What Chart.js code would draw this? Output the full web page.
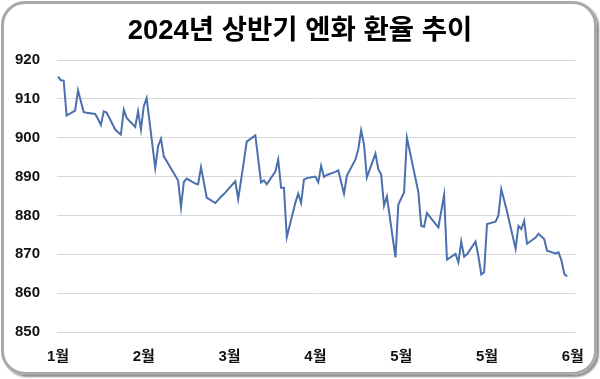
<!DOCTYPE html>
<html lang="ko">
<head>
<meta charset="utf-8">
<title>2024년 상반기 엔화 환율 추이</title>
<script src="https://cdn.jsdelivr.net/npm/chart.js@4.4.1/dist/chart.umd.min.js"></script>
<style>
  html, body { margin: 0; padding: 0; background: #fff; }
  #wrap { position: relative; width: 600px; height: 379px; }
  #frame {
    position: absolute; left: 1px; top: 1px; width: 590px; height: 368px;
    border: 3px solid #a9a9a9; border-radius: 24px;
    box-shadow: 2px 2px 2px #8c8c8c; pointer-events: none;
  }
  #title {
    position: absolute; left: 0; top: 7px; width: 600px; height: 33px;
    line-height: 33px; text-align: center; color: #000;
    font: bold 27.5px 'Liberation Sans', 'Noto Sans CJK KR', sans-serif;
  }
  canvas { position: absolute; left: 0; top: 0; }
</style>
</head>
<body>
<div id="wrap">
  <canvas id="chart" width="600" height="379"></canvas>
  <div id="title">2024년 상반기 엔화 환율 추이</div>
  <div id="frame"></div>
</div>
<script>
// 거래일 (2024년)
const dates = [
  '01-02','01-03','01-04','01-05','01-08','01-09','01-10','01-11','01-12',
  '01-15','01-16','01-17','01-18','01-19','01-22','01-23','01-24','01-25','01-26',
  '01-29','01-30','01-31','02-01','02-02','02-05','02-06','02-07','02-08',
  '02-13','02-14','02-15','02-16','02-19','02-20','02-21','02-22','02-23',
  '02-26','02-27','02-28','02-29','03-04','03-05','03-06','03-07','03-08',
  '03-11','03-12','03-13','03-14','03-15','03-18','03-19','03-20','03-21','03-22',
  '03-25','03-26','03-27','03-28','03-29','04-01','04-02','04-03','04-04','04-05',
  '04-08','04-09','04-11','04-12','04-15','04-16','04-17','04-18','04-19',
  '04-22','04-23','04-24','04-25','04-26','04-29','04-30','05-02','05-03',
  '05-07','05-08','05-09','05-10','05-13','05-14','05-16','05-17',
  '05-20','05-21','05-22','05-23','05-24','05-27','05-28','05-29','05-30','05-31',
  '06-03','06-04','06-05','06-07','06-10','06-11','06-12','06-13','06-14',
  '06-17','06-18','06-19','06-20','06-21','06-24','06-25','06-26','06-27','06-28'
];

// 100엔당 원화 환율
const rates = [
  915.7, 914.8, 914.7, 905.7, 907.0, 912.2, 909.3, 906.6, 906.4,
  906.1, 904.8, 903.3, 906.8, 906.5, 902.1, 901.4, 900.8, 907.2, 905.1,
  902.8, 906.8, 902.1, 908.1, 910.2, 892.2, 897.8, 899.7, 895.2,
  889.0, 882.1, 888.6, 889.5, 888.2, 888.0, 892.4, 888.5, 884.6,
  883.2, 884.0, 884.8, 885.5, 888.8, 884.2, 889.0, 894.0, 899.0,
  900.6, 894.5, 888.5, 889.0, 888.0, 891.3, 894.4, 887.1, 887.1, 874.4,
  883.3, 885.6, 883.2, 889.2, 889.6, 890.0, 888.5, 892.8, 889.9, 890.4,
  891.2, 891.6, 885.6, 890.2, 894.4, 897.1, 901.9, 898.2, 889.8,
  895.9, 891.9, 890.5, 882.5, 884.9, 869.2, 882.8, 885.9, 900.0,
  886.0, 877.3, 877.1, 880.6, 877.8, 876.9, 885.3, 868.6,
  870.1, 867.9, 873.3, 869.4, 870.0, 873.3, 869.5, 864.8, 865.4, 877.8,
  878.4, 880.0, 886.8, 881.0, 871.4, 877.3, 876.5, 878.6, 872.7,
  874.3, 875.3, 874.6, 873.9, 870.9, 870.2, 870.5, 868.5, 865.0, 864.3
];

// x축 눈금 (30일 간격)
const tickLabels = ['1월', '2월', '3월', '4월', '5월', '5월', '6월'];
const tickDays = [0, 30, 60, 90, 120, 150, 180];

// 1월 2일부터 지난 일수
const start = Date.UTC(2024, 0, 2);
const points = dates.map((d, i) => {
  const [m, day] = d.split('-').map(Number);
  return { x: (Date.UTC(2024, m - 1, day) - start) / 86400000, y: rates[i] };
});

Chart.defaults.font.family = "'Liberation Sans', 'Noto Sans CJK KR', sans-serif";
Chart.defaults.color = '#111';

new Chart(document.getElementById('chart'), {
  type: 'line',
  data: {
    datasets: [{
      data: points,
      borderColor: '#4a70ad',
      borderWidth: 2,
      pointRadius: 0,
      tension: 0
    }]
  },
  options: {
    responsive: false,
    animation: false,
    // 제목은 HTML로 따로 올림
    layout: { padding: { left: 0, right: 24, top: 60, bottom: 13 } },
    plugins: {
      legend: { display: false },
      tooltip: { enabled: false },
      title: { display: false }
    },
    scales: {
      x: {
        type: 'linear',
        min: -0.35,
        max: 181,
        grid: { display: false, drawTicks: false },
        border: { display: false },
        afterBuildTicks: (scale) => {
          scale.ticks = tickDays.map(v => ({ value: v }));
        },
        afterFit: (scale) => { scale.height = 34; },
        ticks: {
          padding: 16,
          maxRotation: 0,
          autoSkip: false,
          font: { size: 15, weight: 'bold' },
          callback: (value) => tickLabels[tickDays.indexOf(value)]
        }
      },
      y: {
        min: 850,
        max: 920,
        afterFit: (scale) => { scale.width = 57; },
        grid: { color: '#d9d9d9', lineWidth: 1, drawTicks: false },
        border: { display: false },
        ticks: {
          stepSize: 10,
          padding: 17,
          font: { size: 15, weight: 'bold' }
        }
      }
    }
  }
});
</script>
</body>
</html>
